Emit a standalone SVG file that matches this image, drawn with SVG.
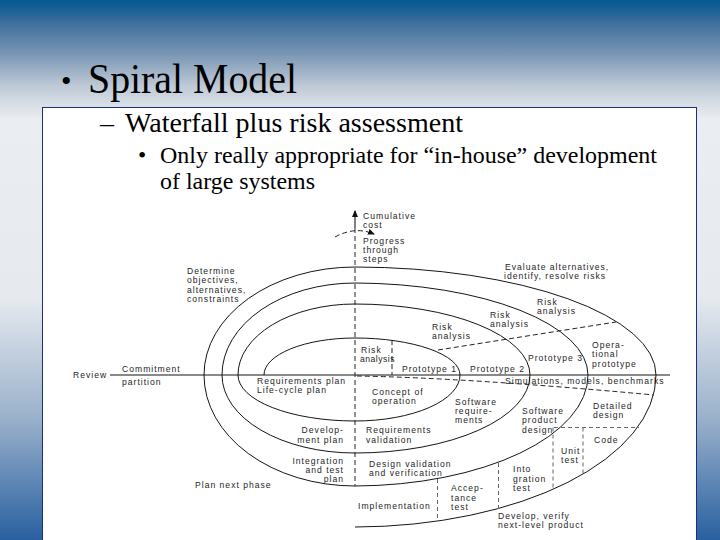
<svg xmlns="http://www.w3.org/2000/svg" width="720" height="540" viewBox="0 0 720 540">
<defs>
<linearGradient id="bg" x1="0" y1="0" x2="0" y2="540" gradientUnits="userSpaceOnUse">
<stop offset="0" stop-color="#075990"/>
<stop offset="0.015" stop-color="#155f96"/>
<stop offset="0.04" stop-color="#3b6d9c"/>
<stop offset="0.1" stop-color="#7a96b5"/>
<stop offset="0.16" stop-color="#bfcad7"/>
<stop offset="0.22" stop-color="#eaedf1"/>
<stop offset="0.55" stop-color="#e6eaef"/>
<stop offset="0.78" stop-color="#98afca"/>
<stop offset="1" stop-color="#2860a0"/>
</linearGradient>
<marker id="ah" markerWidth="8" markerHeight="8" refX="6" refY="4" orient="auto" markerUnits="userSpaceOnUse"><path d="M0,1 L7,4 L0,7 z" fill="#111"/></marker>
</defs>
<style>
.sp{fill:none;stroke:#151515;stroke-width:1}
.ax{fill:none;stroke:#151515;stroke-width:1.1}
.ds{fill:none;stroke:#222;stroke-width:1;stroke-dasharray:5 3}
.dg{fill:none;stroke:#666;stroke-width:1;stroke-dasharray:4 3}
.t{font-family:"Liberation Sans",Arial,sans-serif;font-size:8.6px;letter-spacing:1px;fill:#1e1e1e}
.e{text-anchor:end}
.h{font-family:"Liberation Serif","Times New Roman",serif;fill:#000}
</style>
<rect id="background" x="0" y="0" width="720" height="540" fill="url(#bg)"/>
<g id="title">
<text class="h" x="61" y="91" font-size="30">•</text>
<text class="h" x="88" y="93" font-size="43" textLength="209" lengthAdjust="spacingAndGlyphs">Spiral Model</text>
</g>
<rect id="box" x="42.5" y="107.5" width="654" height="440" fill="#fff" stroke="#1e2f78" stroke-width="1"/>
<g id="bullets">
<text class="h" x="100" y="132" font-size="28">–</text>
<text class="h" x="125" y="132" font-size="28" textLength="338" lengthAdjust="spacingAndGlyphs">Waterfall plus risk assessment</text>
<text class="h" x="138" y="163" font-size="23.5">•</text>
<text class="h" x="160" y="163" font-size="23.5" textLength="497" lengthAdjust="spacingAndGlyphs">Only really appropriate for “in-house” development</text>
<text class="h" x="160" y="189" font-size="23.5" textLength="155" lengthAdjust="spacingAndGlyphs">of large systems</text>
</g>
<g id="connectors">
<path id="spiral" class="sp" d="M264 375 A91 37 0 0 1 355 338 A105 37 0 0 1 460 375 A105 46 0 0 1 355 421 A117 46 0 0 1 238 375 A117 71 0 0 1 355 304 A175 71 0 0 1 530 375 A175 78 0 0 1 355 453 A133 78 0 0 1 222 375 A133 92 0 0 1 355 283 A235 92 0 0 1 588 375 A235 111 0 0 1 355 486 A151 111 0 0 1 204 375 A151 108 0 0 1 355 267 A302 108 0 0 1 656 375 A302 152 0 0 1 355 527"/>
<line class="ax" x1="110" y1="375" x2="670" y2="375"/>
<line class="ax" x1="355" y1="228" x2="355" y2="211" marker-end="url(#ah)"/>
<line class="ds" x1="355" y1="228" x2="355" y2="486"/>
<path class="ds" d="M335 237 Q355 226 374 234" marker-end="url(#ah)"/>
<line class="ds" x1="392" y1="340" x2="392" y2="375"/>
<line class="ds" x1="438" y1="350" x2="616" y2="322"/>
<path class="ds" d="M357 376 Q470 378 654 395"/>
<line class="dg" x1="554" y1="427.5" x2="639" y2="427.5"/>
<line class="dg" x1="583" y1="427.5" x2="583" y2="474"/>
<line class="dg" x1="553" y1="427.5" x2="553" y2="490"/>
<line class="dg" x1="498.5" y1="463" x2="498.5" y2="509"/>
<line class="dg" x1="437.5" y1="479" x2="437.5" y2="521"/>
</g>
<g id="labels" class="t">
<text x="363" y="219">Cumulative</text>
<text x="363" y="228.4">cost</text>
<text x="363" y="243.5">Progress</text>
<text x="363" y="252.9">through</text>
<text x="363" y="262.3">steps</text>
<text x="187" y="274">Determine</text>
<text x="187" y="283.4">objectives,</text>
<text x="187" y="292.8">alternatives,</text>
<text x="187" y="302.2">constraints</text>
<text x="505" y="270">Evaluate alternatives,</text>
<text x="504" y="279.4">identify, resolve risks</text>
<text x="537" y="305">Risk</text>
<text x="537" y="314.4">analysis</text>
<text x="490" y="317.5">Risk</text>
<text x="490" y="326.9">analysis</text>
<text x="432" y="329.5">Risk</text>
<text x="432" y="338.9">analysis</text>
<text x="361" y="353">Risk</text>
<text x="360" y="362.4" letter-spacing="0.5">analysis</text>
<text x="402" y="371.5">Prototype 1</text>
<text x="470" y="371.5">Prototype 2</text>
<text x="528" y="361">Prototype 3</text>
<text x="592" y="348">Opera-</text>
<text x="592" y="357.4">tional</text>
<text x="592" y="366.8">prototype</text>
<text x="73" y="378">Review</text>
<text x="122" y="372">Commitment</text>
<text x="122" y="385">partition</text>
<text x="257" y="384">Requirements plan</text>
<text x="257" y="393.4">Life-cycle plan</text>
<text x="505" y="384">Simulations, models, benchmarks</text>
<text x="372" y="395">Concept of</text>
<text x="372" y="404.4">operation</text>
<text x="455" y="404.5">Software</text>
<text x="455" y="413.9">require-</text>
<text x="455" y="423.3">ments</text>
<text x="522" y="414">Software</text>
<text x="522" y="423.4">product</text>
<text x="522" y="432.8">design</text>
<text x="593" y="408.5">Detailed</text>
<text x="593" y="417.9">design</text>
<text class="e" x="344" y="433.3">Develop-</text>
<text class="e" x="344" y="442.7">ment plan</text>
<text x="366" y="433.3">Requirements</text>
<text x="366" y="442.7">validation</text>
<text x="594" y="442.5">Code</text>
<text x="561" y="454">Unit</text>
<text x="561" y="463.4">test</text>
<text class="e" x="344" y="463.6">Integration</text>
<text class="e" x="344" y="473">and test</text>
<text class="e" x="344" y="482.4">plan</text>
<text x="369" y="466.8">Design validation</text>
<text x="369" y="476.2">and verification</text>
<text x="513" y="472.4">Into</text>
<text x="513" y="481.8">gration</text>
<text x="513" y="491.2">test</text>
<text x="195" y="487.5">Plan next phase</text>
<text x="451" y="491.2">Accep-</text>
<text x="451" y="500.6">tance</text>
<text x="451" y="510">test</text>
<text x="358" y="508.5">Implementation</text>
<text x="498" y="519">Develop, verify</text>
<text x="498" y="528.4">next-level product</text>
</g>
</svg>
